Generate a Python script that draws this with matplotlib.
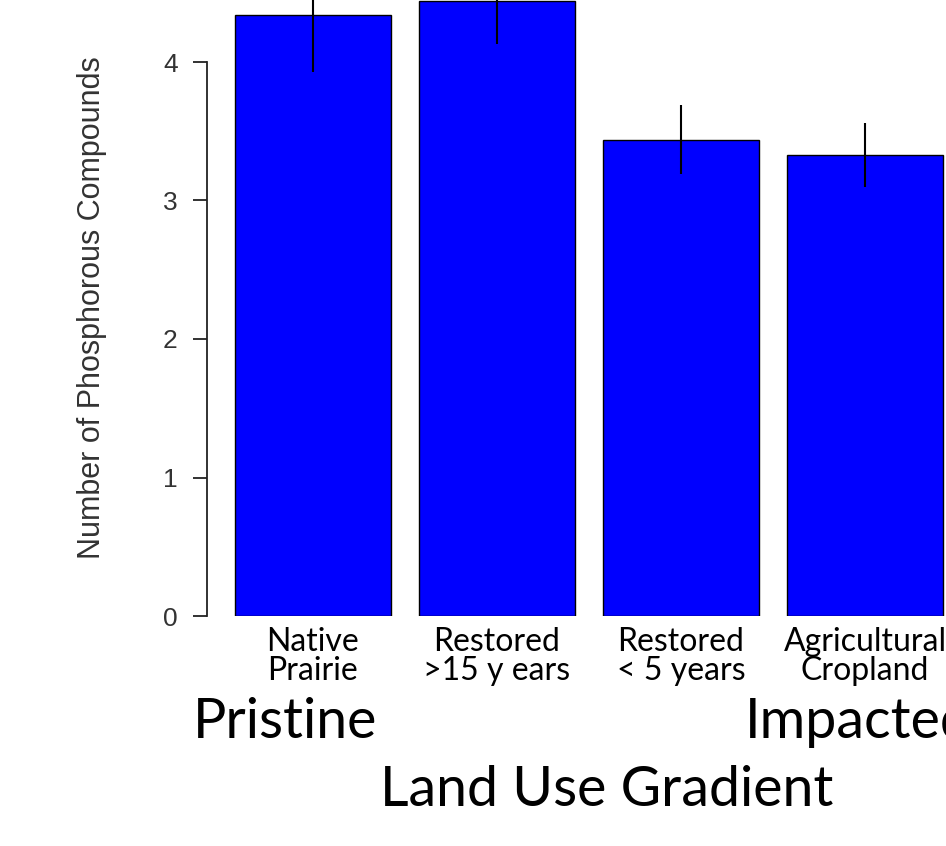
import matplotlib.pyplot as plt

# values
sites = ["Native\nPrairie", "Restored\n>15 y ears", "Restored\n< 5 years", "Agricultural\nCropland"]
means = [4.34, 4.44, 3.44, 3.33]
errs = [0.41, 0.31, 0.25, 0.23]
yticks = [0, 1, 2, 3, 4]

fig = plt.figure(figsize=(9.46, 8.46), dpi=100)
ax = fig.add_axes([207 / 946, 230 / 846, 739 / 946, 616 / 846])

x = list(range(len(sites)))
ax.bar(x, means, width=0.85, color="#0000ff", edgecolor="black", linewidth=1.0)
ax.errorbar(x, means, yerr=errs, fmt="none", ecolor="black", elinewidth=1.5, capsize=0)

ax.set_xlim(-0.576, 3.44)
ax.set_ylim(0, 616 / 138.5)

# R style axis: only the left one, from 0 to 4
for s in ["top", "right", "bottom"]:
    ax.spines[s].set_visible(False)
ax.spines["left"].set_bounds(0, 4)
ax.spines["left"].set_color("#222222")
ax.spines["left"].set_linewidth(1.3)

ax.set_yticks(yticks)
ax.set_yticklabels([str(v) for v in yticks], fontsize=19, family="Liberation Sans", color="#333333")
ax.tick_params(axis="y", length=10, width=1.3, color="#222222", pad=11)

ax.set_xticks(x)
ax.set_xticklabels(sites, fontsize=23, family="Lato", linespacing=0.95)
ax.tick_params(axis="x", length=0, pad=8)

fig.text(92 / 946, 1 - 308 / 846, "Number of Phosphorous Compounds", rotation=90,
         ha="center", va="center", fontsize=22, family="Liberation Sans", color="#333333")

# the reference is cropped on the right, "Impacted" runs off the edge there too
fig.text(285 / 946, 1 - 722 / 846, "Pristine", ha="center", va="center", fontsize=40, family="Lato")
fig.text(745 / 946, 1 - 722 / 846, "Impacted", ha="left", va="center", fontsize=40, family="Lato")
fig.text(607 / 946, 1 - 790 / 846, "Land Use Gradient", ha="center", va="center", fontsize=40, family="Lato")

fig.savefig("out.png", dpi=100)
